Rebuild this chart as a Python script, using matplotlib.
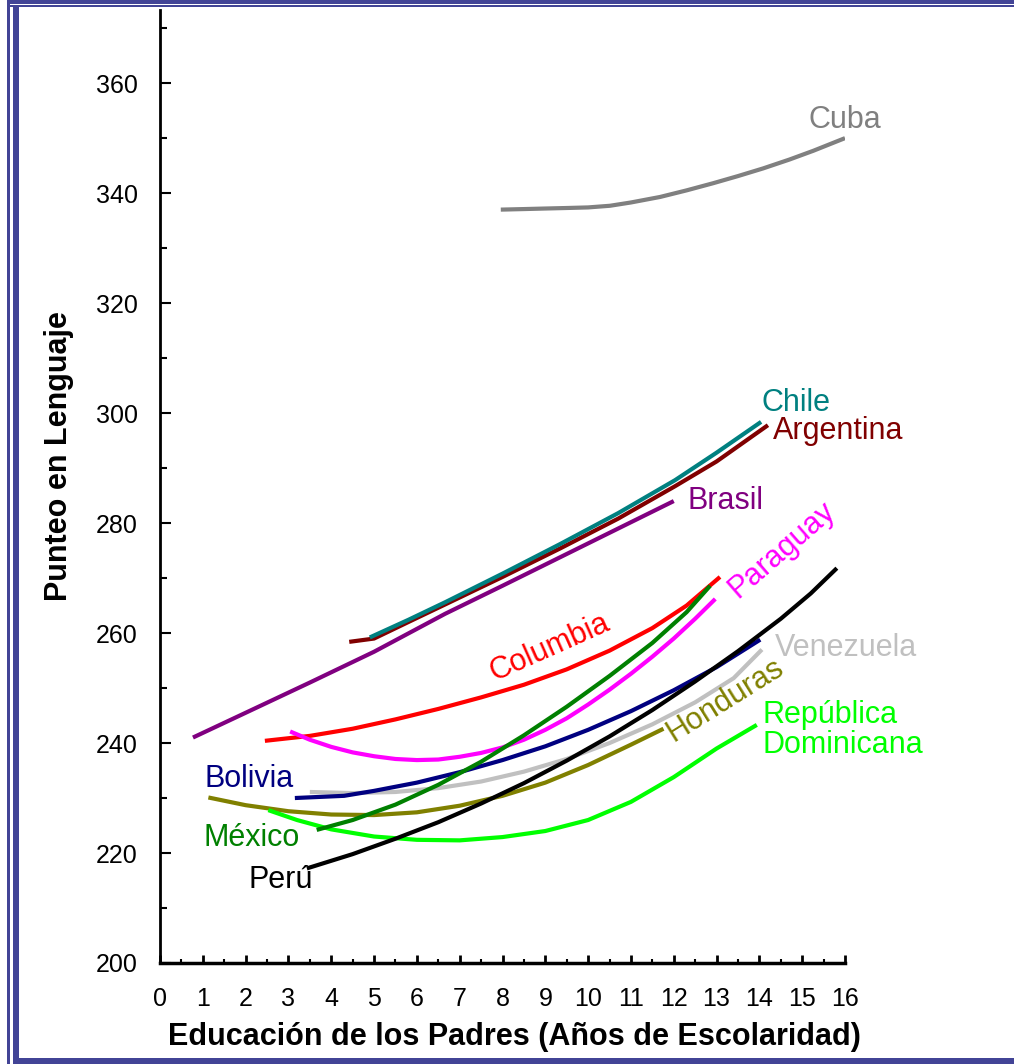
import matplotlib
matplotlib.use("Agg")
import matplotlib.pyplot as plt
from matplotlib.patches import Rectangle
from matplotlib.ticker import MultipleLocator

plt.rcParams['font.family'] = ['Liberation Sans', 'DejaVu Sans']

# curves: years of parental schooling vs language score
cuba_x = [7.96, 8.5, 9.0, 9.53, 10.0, 10.51, 11.0, 11.68, 12.3, 12.92, 13.5, 14.09, 14.7, 15.26, 16.0]
cuba_y = [337.0, 337.1, 337.2, 337.3, 337.4, 337.7, 338.3, 339.3, 340.5, 341.8, 343.1, 344.5, 346.1, 347.7, 350.0]

argentina_x = [4.42, 5.0, 5.8, 6.66, 8.0, 9.35, 10.7, 12.03, 13.0, 14.2]
argentina_y = [258.4, 259.0, 262.0, 265.2, 270.2, 275.4, 280.8, 286.7, 291.2, 297.8]

chile_x = [4.9, 5.8, 6.66, 8.0, 9.35, 10.7, 12.03, 13.0, 14.04]
chile_y = [259.2, 262.4, 265.6, 270.8, 276.2, 281.8, 287.8, 292.8, 298.4]

brasil_x = [0.77, 2.0, 3.5, 5.0, 6.66, 8.0, 9.35, 10.7, 12.0]
brasil_y = [241.0, 245.5, 251.0, 256.6, 263.5, 268.6, 273.8, 279.0, 284.0]

columbia_x = [2.45, 3.5, 4.5, 5.5, 6.5, 7.5, 8.5, 9.5, 10.5, 11.5, 12.3, 13.08]
columbia_y = [240.4, 241.3, 242.6, 244.3, 246.2, 248.3, 250.6, 253.4, 256.8, 260.9, 265.0, 270.2]

paraguay_x = [3.04, 3.5, 4.0, 4.5, 5.0, 5.5, 6.0, 6.5, 7.0, 7.5, 8.0, 8.5, 9.0,
              9.5, 10.0, 10.5, 11.0, 11.5, 12.0, 12.5, 12.97]
paraguay_y = [242.1, 240.6, 239.3, 238.3, 237.6, 237.1, 236.9, 237.0, 237.5, 238.2, 239.2, 240.6, 242.4,
              244.5, 247.0, 249.7, 252.6, 255.7, 259.0, 262.6, 266.2]

bolivia_x = [3.15, 4.3, 5.0, 6.0, 7.0, 8.0, 9.0, 10.0, 11.0, 12.0, 13.0, 14.02]
bolivia_y = [230.0, 230.4, 231.3, 232.8, 234.7, 236.9, 239.4, 242.4, 245.8, 249.6, 253.8, 258.8]

venezuela_x = [3.5, 4.5, 5.5, 6.5, 7.5, 8.5, 9.5, 10.5, 11.5, 12.5, 13.4, 14.06]
venezuela_y = [231.1, 230.9, 231.1, 231.8, 233.0, 234.8, 237.1, 240.0, 243.4, 247.4, 251.8, 257.0]

honduras_x = [1.13, 2.0, 3.0, 4.0, 5.0, 6.0, 7.0, 8.0, 9.0, 10.0, 11.0, 11.76]
honduras_y = [230.1, 228.7, 227.6, 227.0, 226.9, 227.4, 228.6, 230.4, 232.8, 236.0, 239.7, 242.6]

dominicana_x = [2.53, 3.2, 4.0, 5.0, 6.0, 7.0, 8.0, 9.0, 10.0, 11.0, 12.0, 13.0, 13.94]
dominicana_y = [227.8, 226.0, 224.3, 223.0, 222.4, 222.3, 222.9, 224.0, 226.0, 229.3, 233.8, 239.0, 243.3]

mexico_x = [3.66, 4.5, 5.5, 6.5, 7.5, 8.5, 9.5, 10.5, 11.5, 12.3, 12.85]
mexico_y = [224.2, 226.0, 228.8, 232.4, 236.6, 241.4, 246.6, 252.2, 258.2, 263.8, 268.6]

peru_x = [3.43, 4.5, 5.5, 6.5, 7.5, 8.5, 9.5, 10.5, 11.5, 12.5, 13.5, 14.5, 15.2, 15.81]
peru_y = [217.2, 219.8, 222.6, 225.6, 229.0, 232.7, 236.8, 241.2, 246.0, 251.2, 256.7, 262.6, 267.2, 271.8]

series = [
    (cuba_x, cuba_y, '#808080'),
    (argentina_x, argentina_y, '#800000'),
    (chile_x, chile_y, '#008080'),
    (brasil_x, brasil_y, '#800080'),
    (columbia_x, columbia_y, '#FF0000'),
    (paraguay_x, paraguay_y, '#FF00FF'),
    (venezuela_x, venezuela_y, '#C0C0C0'),
    (bolivia_x, bolivia_y, '#000080'),
    (honduras_x, honduras_y, '#808000'),
    (dominicana_x, dominicana_y, '#00FF00'),
    (mexico_x, mexico_y, '#008000'),
    (peru_x, peru_y, '#000000'),
]

# country labels: text, x, y, colour, rotation, alignment
labels = [
    ('Cuba', 16.0, 353.3, '#808080', 0, 'center'),
    ('Chile', 14.86, 301.8, '#008080', 0, 'center'),
    ('Argentina', 15.84, 296.7, '#800000', 0, 'center'),
    ('Brasil', 13.22, 284.0, '#800080', 0, 'center'),
    ('Columbia', 9.11, 257.3, '#FF0000', 24, 'center'),
    ('Paraguay', 14.53, 275.1, '#FF00FF', 41, 'center'),
    ('Venezuela', 16.03, 257.3, '#C0C0C0', 0, 'center'),
    ('Honduras', 13.2, 247.8, '#808000', 32, 'center'),
    ('República', 14.07, 245.1, '#00FF00', 0, 'left'),
    ('Dominicana', 14.07, 239.6, '#00FF00', 0, 'left'),
    ('Bolivia', 2.08, 233.5, '#000080', 0, 'center'),
    ('México', 2.15, 222.7, '#008000', 0, 'center'),
    ('Perú', 2.83, 215.1, '#000000', 0, 'center'),
]

W, H = 1014, 1064
fig = plt.figure(figsize=(W / 100, H / 100), dpi=100)
ax = fig.add_axes([160 / W, (H - 963) / H, 685 / W, 953 / H])

for xs, ys, col in series:
    ax.plot(xs, ys, color=col, lw=3, solid_capstyle='butt', solid_joinstyle='round')

for txt, x, y, col, rot, ha in labels:
    ax.text(x, y, txt, color=col, fontsize=22, rotation=rot,
            ha=ha, va='center', rotation_mode='anchor')

ax.set_xlim(0, 16)
ax.set_ylim(200, 373.3)
ax.spines['top'].set_visible(False)
ax.spines['right'].set_visible(False)
ax.spines['left'].set_linewidth(2)
ax.spines['bottom'].set_linewidth(2.5)

ax.xaxis.set_major_locator(MultipleLocator(1))
ax.xaxis.set_minor_locator(MultipleLocator(0.5))
ax.yaxis.set_major_locator(MultipleLocator(20))
ax.yaxis.set_minor_locator(MultipleLocator(10))
ax.tick_params(axis='x', which='major', direction='in', length=6, width=2,
               labelsize=18, pad=17)
ax.tick_params(axis='x', which='minor', direction='in', length=3, width=1.5)
ax.tick_params(axis='y', which='major', direction='in', length=8, width=1.5,
               labelsize=18, pad=16)
ax.tick_params(axis='y', which='minor', direction='in', length=5, width=1.5)

ax.set_xlabel('Educación de los Padres (Años de Escolaridad)',
              fontsize=22, fontweight='bold')
ax.xaxis.set_label_coords(0.518, -0.062)
ax.set_ylabel('Punteo en Lenguaje', fontsize=22, fontweight='bold')
ax.yaxis.set_label_coords(-0.125, 0.532)

# blue frame around the picture
blue = '#424496'
def band(x0, y0, x1, y1):
    fig.add_artist(Rectangle((x0 / W, 1 - y1 / H), (x1 - x0) / W, (y1 - y0) / H,
                             transform=fig.transFigure, color=blue, lw=0))

band(10, 0, W, 4)
band(10, 5, W, 7)
band(7, 0, 10, H)
band(13, 5, 19, H)
band(13, 1058, W, 1064)

fig.savefig('out.png', dpi=100)
